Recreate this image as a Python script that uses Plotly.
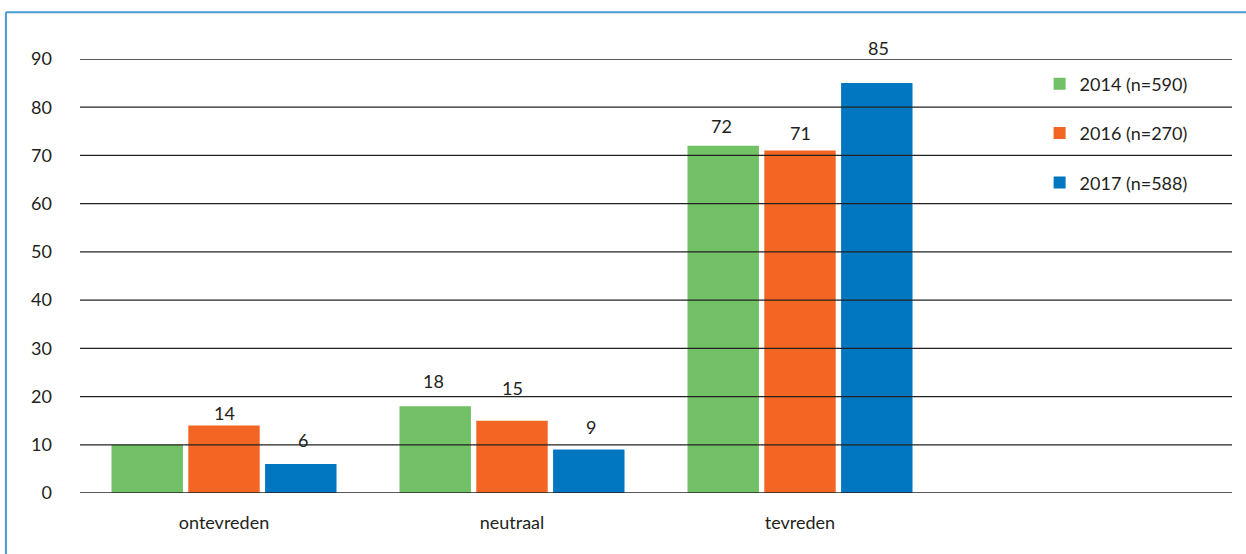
import plotly.graph_objects as go

# Satisfaction per year (%)
categories = ["ontevreden", "neutraal", "tevreden"]
series_names = ["2014 (n=590)", "2016 (n=270)", "2017 (n=588)"]
values_2014 = [10, 18, 72]
values_2016 = [14, 15, 71]
values_2017 = [6, 9, 85]
labels_2014 = [None, "18", "72"]
labels_2016 = ["14", "15", "71"]
labels_2017 = ["6", "9", "85"]
y_ticks = [0, 10, 20, 30, 40, 50, 60, 70, 80, 90]

# Vertical lift of each value label above its bar (px), per series
label_lift_2014 = [0, 25, 20]
label_lift_2016 = [12, 33, 18]
label_lift_2017 = [24, 23, 35]

colors = ["#72C167", "#F26522", "#0077C0"]
font_family = "Lato, 'Noto Sans', sans-serif"
text_color = "#231F20"
font_size = 18

series_values = [values_2014, values_2016, values_2017]
series_labels = [labels_2014, labels_2016, labels_2017]
series_lifts = [label_lift_2014, label_lift_2016, label_lift_2017]

fig = go.Figure()
for i, (name, vals) in enumerate(zip(series_names, series_values)):
    fig.add_trace(go.Bar(
        x=categories, y=vals, name=name,
        marker=dict(color=colors[i], line=dict(width=0)),
        legendgroup=f"g{i}",
    ))

# Value labels above the bars
offset_group = [-1, 0, 1]
annotations = []
for i, (vals, labs, lifts) in enumerate(zip(series_values, series_labels, series_lifts)):
    for c, v, t, lift in zip(categories, vals, labs, lifts):
        if t is None:
            continue
        annotations.append(dict(
            x=c, y=v, text=t, showarrow=False, xref="x", yref="y",
            xshift=offset_group[i] * 78.5, yshift=lift,
            font=dict(size=font_size, color=text_color, family=font_family),
        ))

# Horizontal rules drawn over the bars
shapes = [
    dict(type="line", xref="paper", yref="y", x0=0, x1=1, y0=v, y1=v,
         line=dict(color="#222222", width=1.3), layer="above")
    for v in y_ticks
]
# Frame: top and left edges
shapes.append(dict(type="line", xref="paper", yref="paper",
                   x0=-0.0643, x1=1.02, y0=1.108, y1=1.108,
                   line=dict(color="#4A9AD4", width=2)))
shapes.append(dict(type="line", xref="paper", yref="paper",
                   x0=-0.0643, x1=-0.0643, y0=1.108, y1=-0.2,
                   line=dict(color="#4A9AD4", width=2)))

fig.update_layout(
    width=1246, height=554,
    margin=dict(l=80, r=14, t=59, b=61),
    paper_bgcolor="white", plot_bgcolor="white",
    barmode="group", bargap=0.2, bargroupgap=0.07,
    font=dict(family=font_family, size=font_size, color=text_color),
    xaxis=dict(
        type="category",
        categoryorder="array", categoryarray=categories + [" "],
        range=[-0.5, 3.5],
        showgrid=False, showline=False, zeroline=False,
        ticks="", ticklabelstandoff=17,
        tickfont=dict(size=font_size, color=text_color, family=font_family),
    ),
    yaxis=dict(
        range=[0, 90], tickvals=y_ticks,
        showgrid=False, zeroline=False, showline=False,
        ticks="", ticklabelstandoff=27,
        tickfont=dict(size=font_size, color=text_color, family=font_family),
    ),
    legend=dict(
        x=0.833, y=0.985, xanchor="left", yanchor="top",
        bgcolor="rgba(0,0,0,0)", tracegroupgap=23,
        font=dict(size=font_size, color=text_color, family=font_family),
    ),
    showlegend=True,
    annotations=annotations,
    shapes=shapes,
)

fig.write_html("out.html")
